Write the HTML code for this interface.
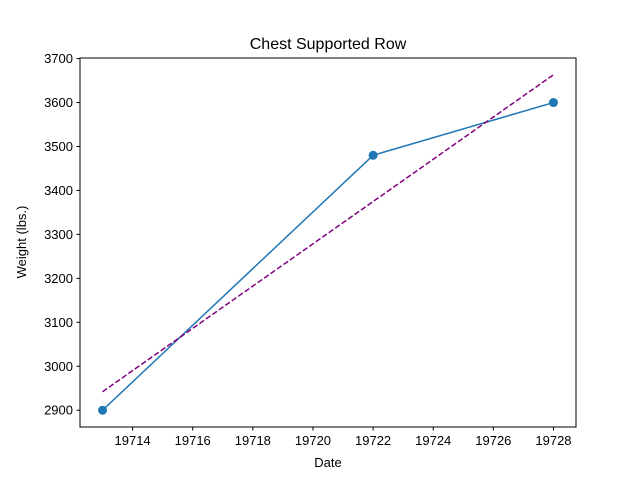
<!DOCTYPE html>
<html><head><meta charset="utf-8"><style>
body{margin:0;background:#fff;}
svg{display:block;font-family:"Liberation Sans","DejaVu Sans",sans-serif;}
</style></head><body>
<svg id="chart" width="640" height="480">
<rect width="640" height="480" fill="#fff"/>
<text x="328" y="49" text-anchor="middle" font-size="16">Chest Supported Row</text>
<g id="grid"></g>
<g id="marks"></g>
<rect x="80" y="58" width="496" height="369" fill="none" stroke="#000" stroke-width="1"/>
<text x="328" y="467" text-anchor="middle" font-size="13">Date</text>
<text transform="translate(26,242) rotate(-90)" text-anchor="middle" font-size="13">Weight (lbs.)</text>
</svg>
<script>
const dates=[19713,19722,19728];
const weights=[2900,3480,3600];
const xTicks=[19714,19716,19718,19720,19722,19724,19726,19728];
const yTicks=[2900,3000,3100,3200,3300,3400,3500,3600,3700];
const NS="http://www.w3.org/2000/svg";
const L=80,R=576,T=58,B=427;
const n=dates.length;
const mx=dates.reduce((a,b)=>a+b)/n,my=weights.reduce((a,b)=>a+b)/n;
let sxy=0,sxx=0;for(let i=0;i<n;i++){sxy+=(dates[i]-mx)*(weights[i]-my);sxx+=(dates[i]-mx)**2;}
const slope=sxy/sxx,icpt=my-slope*mx;
const trendX=[Math.min(...dates),Math.max(...dates)];
const trendY=trendX.map(x=>icpt+slope*x);
const xmin0=Math.min(...dates),xmax0=Math.max(...dates);
const xpad=(xmax0-xmin0)*0.05;
const allY=weights.concat(trendY);
const ymin0=Math.min(...allY),ymax0=Math.max(...allY),ypad=(ymax0-ymin0)*0.05;
const x=v=>L+(v-(xmin0-xpad))/((xmax0+xpad)-(xmin0-xpad))*(R-L);
const y=v=>B-(v-(ymin0-ypad))/((ymax0+ypad)-(ymin0-ypad))*(B-T);
function mk(tag,attrs,parent){const e=document.createElementNS(NS,tag);for(const k in attrs)e.setAttribute(k,attrs[k]);parent.appendChild(e);return e;}
const g=document.getElementById('grid'),m=document.getElementById('marks');
xTicks.forEach(t=>{const px=x(t);
const l=mk('line',{x1:px,x2:px,y1:B,y2:B+3.5,stroke:'#000'},g);


const tx=mk('text',{x:px,y:B+18,'text-anchor':'middle','font-size':'13'},g);tx.textContent=t;

});
yTicks.forEach(t=>{const py=y(t);
const l=mk('line',{x1:L-3.5,x2:L,y1:py,y2:py,stroke:'#000'},g);


const tx=mk('text',{x:L-7,y:py+4.5,'text-anchor':'end','font-size':'13'},g);tx.textContent=t;

});
const line=mk('polyline',{points:dates.map((d,i)=>x(d)+','+y(weights[i])).join(' '),fill:'none',stroke:'#1f77b4','stroke-width':1.5},m);


const tr=mk('line',{x1:x(trendX[0]),y1:y(trendY[0]),x2:x(trendX[1]),y2:y(trendY[1]),stroke:'purple','stroke-width':1.5,'stroke-dasharray':'5.5,2.4'},m);


dates.forEach((d,i)=>{const c=mk('circle',{cx:x(d),cy:y(weights[i]),r:4.5,fill:'#1f77b4'},m);

});
</script>
</body></html>
